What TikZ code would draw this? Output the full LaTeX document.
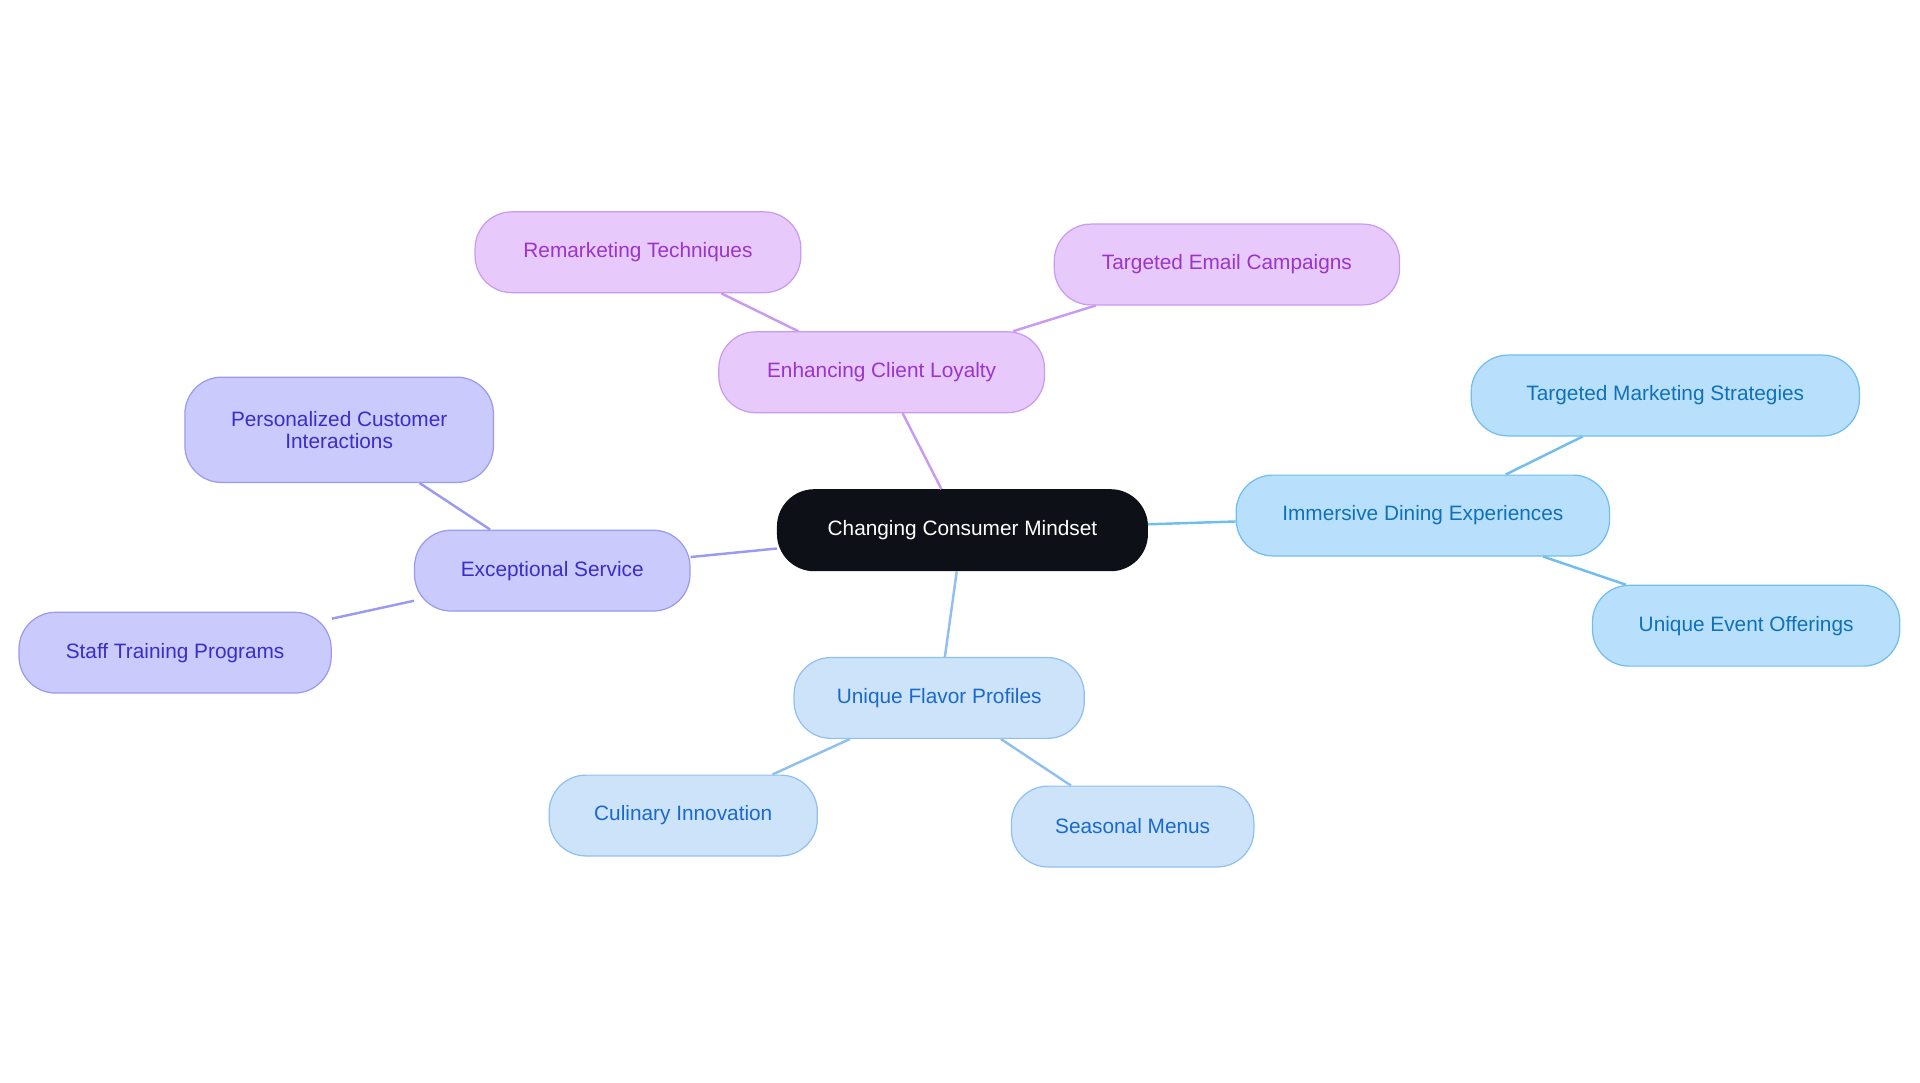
\documentclass[tikz,border=0pt]{standalone}
\usepackage{fontspec}
\setmainfont{Liberation Sans}
\definecolor{pF}{HTML}{E8C9FC}\definecolor{pB}{HTML}{C99AF0}\definecolor{pT}{HTML}{9A35C8}
\definecolor{vF}{HTML}{CACAFC}\definecolor{vB}{HTML}{9A9AF0}\definecolor{vT}{HTML}{3A2EC8}
\definecolor{cF}{HTML}{B8E0FC}\definecolor{cB}{HTML}{70BDF0}\definecolor{cT}{HTML}{1070B8}
\definecolor{bF}{HTML}{CDE3FA}\definecolor{bB}{HTML}{90C0F0}\definecolor{bT}{HTML}{1A6ACC}
\definecolor{dk}{HTML}{0D1117}
\begin{document}
\begin{tikzpicture}[x=1pt,y=-1pt,font=\fontsize{17}{20}\selectfont,
 box/.style={rounded corners=30pt,minimum height=66pt,align=center,inner sep=0pt,line width=1pt},
 pu/.style={box,fill=pF,draw=pB,text=pT},
 vi/.style={box,fill=vF,draw=vB,text=vT},
 cy/.style={box,fill=cF,draw=cB,text=cT},
 bl/.style={box,fill=bF,draw=bB,text=bT},
 ed/.style={line width=2pt}]
\useasboundingbox (0,0) rectangle (1568,884);
\node[box,fill=dk,draw=dk,text=white,minimum width=302pt] (c) at (786,433) {Changing Consumer Mindset};
\node[pu,minimum width=266pt] (p) at (720,304) {Enhancing Client Loyalty};
\node[pu,minimum width=266pt] (p1) at (521,206) {Remarketing Techniques};
\node[pu,minimum width=282pt] (p2) at (1002,216) {Targeted Email Campaigns};
\node[vi,minimum width=225pt] (v) at (451,466) {Exceptional Service};
\node[vi,minimum width=252pt,minimum height=86pt] (v1) at (277,351) {Personalized Customer\\[-2pt]Interactions};
\node[vi,minimum width=255pt] (v2) at (143,533) {Staff Training Programs};
\node[cy,minimum width=305pt] (y) at (1162,421) {Immersive Dining Experiences};
\node[cy,minimum width=317pt] (y1) at (1360,323) {Targeted Marketing Strategies};
\node[cy,minimum width=251pt] (y2) at (1426,511) {Unique Event Offerings};
\node[bl,minimum width=237pt] (b) at (767,570) {Unique Flavor Profiles};
\node[bl,minimum width=219pt] (b1) at (558,666) {Culinary Innovation};
\node[bl,minimum width=198pt] (b2) at (925,675) {Seasonal Menus};
\draw[ed,pB] (c)--(p) (p)--(p1) (p)--(p2);
\draw[ed,vB] (c)--(v) (v)--(v1) (v)--(v2);
\draw[ed,cB] (c)--(y) (y)--(y1) (y)--(y2);
\draw[ed,bB] (c)--(b) (b)--(b1) (b)--(b2);
\end{tikzpicture}
\end{document}
